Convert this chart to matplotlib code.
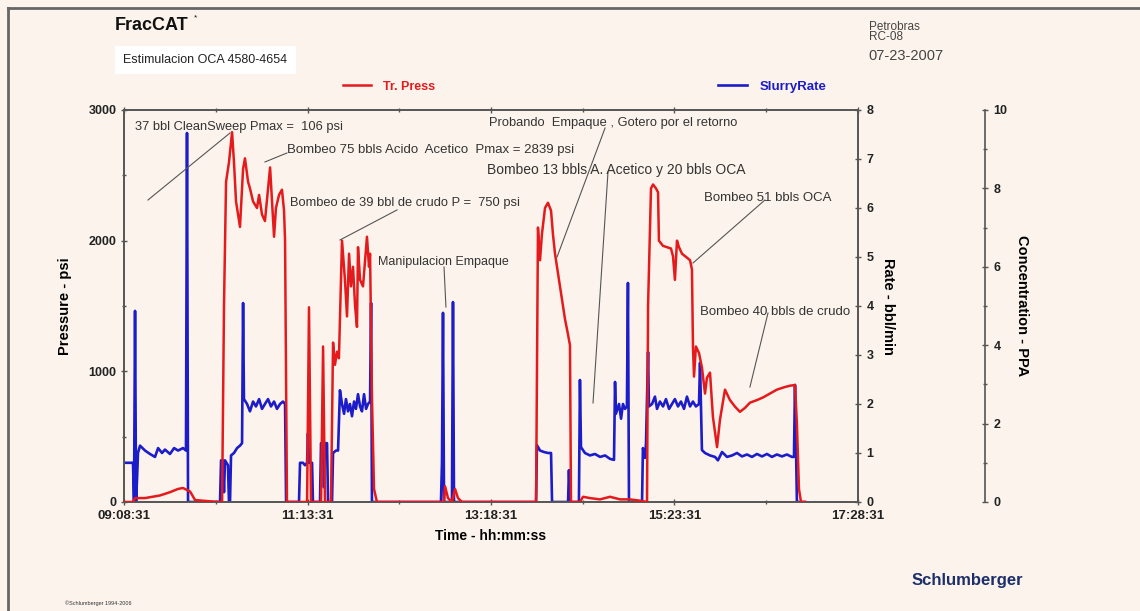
import numpy as np
import matplotlib
matplotlib.use("Agg")
import matplotlib.pyplot as plt
from matplotlib.ticker import FixedLocator, MultipleLocator, FuncFormatter
from matplotlib.lines import Line2D

plt.rcParams["font.family"] = ["Liberation Sans", "DejaVu Sans"]

# === Data (time in minutes after 09:08:31) ===
start_sec = 9 * 3600 + 8 * 60 + 31

press_t = [0.0, 6.1, 7.5, 14.3, 24.5, 31.3, 36.8, 40.2, 45.0, 48.4, 64.0,
           66.8, 68.1, 69.5, 71.5, 73.6, 74.9, 76.3, 79.0, 81.1, 82.4, 84.5, 85.8, 87.9,
           90.6, 92.0, 94.0, 96.0, 98.1, 99.5, 100.8, 102.2, 103.5, 105.6, 107.6, 109.0,
           109.7, 111.0, 113.8,
           124.7, 126.0, 127.4, 134.2, 135.6, 136.9, 141.0, 142.4, 143.7, 145.1, 146.4,
           147.1, 148.5, 150.5, 151.9, 153.3, 154.6, 156.0, 157.4, 158.7, 159.4, 160.8,
           162.8, 164.2, 165.5, 166.9, 167.6, 168.9, 170.3, 172.3,
           215.9, 218.0, 218.7, 220.7, 223.4, 225.5, 227.5, 230.2,
           280.7, 282.0, 283.4, 284.7, 286.8, 288.8, 290.9, 292.2, 293.6, 297.0, 300.4,
           302.5, 303.8, 304.5,
           310.6, 312.7, 317.4, 324.3, 331.1, 337.9, 344.7, 351.5, 356.3,
           357.0, 359.0, 360.4, 362.4, 363.8, 364.4, 367.2, 369.9, 372.6, 374.0, 375.3,
           376.7, 378.1, 380.1, 383.5, 385.6, 386.9, 387.6, 388.3, 389.6, 391.7, 393.7,
           395.8, 397.1, 399.2, 401.2, 404.0, 406.0, 409.4, 412.8, 416.2, 419.6, 423.0,
           426.4, 431.2, 435.3, 440.1, 444.8, 450.3, 453.7, 457.1, 458.4, 459.8, 461.2,
           463.9]
press_psi = [0, 0, 30, 30, 50, 75, 100, 107, 80, 15, 0,
             0, 1500, 2450, 2600, 2830, 2600, 2300, 2105, 2550, 2630, 2450, 2400, 2300,
             2250, 2350, 2200, 2150, 2400, 2560, 2300, 2030, 2250, 2350, 2390, 2230,
             2000, 0, 0,
             0, 1490, 0, 0, 1190, 0, 0, 1220, 1050, 1150, 1100,
             1400, 2000, 1700, 1420, 1900, 1650, 1800, 1500, 1340, 1950, 1700,
             1650, 1850, 2030, 1800, 1900, 800, 100, 0,
             0, 0, 120, 30, 0, 100, 30, 0,
             0, 2100, 1850, 2050, 2250, 2290, 2230, 2050, 1900, 1650, 1400,
             1280, 1200, 0,
             0, 40, 30, 20, 40, 20, 20, 10, 0,
             1500, 2400, 2430, 2400, 2370, 2000, 1960, 1950, 1940, 1880, 1700,
             2000, 1950, 1900, 1870, 1850, 1780, 1190, 960, 1190, 1140, 1030,
             830, 950, 990, 650, 420, 630, 860, 780, 730, 690, 720,
             760, 780, 800, 830, 860, 880, 890, 895, 600, 100, 0,
             0]

rate_t = [0.0, 6.1, 6.8, 7.5, 8.2, 8.9, 9.5, 10.9, 14.3, 17.7, 21.1, 23.2, 25.9, 27.9,
          31.3, 34.1, 36.8, 40.2, 42.2, 42.9, 43.6,
          65.4, 66.1, 67.4, 68.1, 68.8, 70.8, 71.5, 72.2, 72.9, 74.9, 77.0, 79.0, 80.4,
          81.1, 81.7, 83.8, 85.8, 87.9, 89.9, 92.0, 94.0, 96.0, 98.1, 100.1, 102.2,
          104.2, 106.3, 108.3, 109.7, 110.4,
          119.2, 119.9, 121.9, 123.3, 124.7, 125.3, 126.0, 128.1, 128.7, 133.5, 134.2,
          135.6, 136.2, 136.9, 138.3, 139.0, 141.7, 142.4, 144.4, 145.8, 147.1, 148.5,
          149.9, 151.2, 152.6, 153.9, 155.3, 156.7, 158.0, 159.4, 160.8, 162.1, 163.5,
          164.9, 166.2, 167.6, 168.3, 168.9,
          215.9, 216.6, 217.3, 218.0, 223.4, 224.1, 224.8,
          280.7, 281.3, 283.4, 286.1, 288.8, 290.9, 291.6, 302.5, 303.1, 303.8,
          309.9, 310.6, 311.3, 314.0, 317.4, 320.8, 324.3, 327.7, 331.1, 333.8, 334.5,
          335.1, 337.2, 338.6, 339.9, 341.3, 342.6, 343.3, 344.0,
          352.9, 353.5, 354.9, 355.6, 357.0, 357.6, 359.7, 361.7, 363.1, 365.1, 367.2,
          369.2, 371.3, 373.3, 375.3, 377.4, 379.4, 381.5, 383.5, 385.6, 387.6, 389.6,
          391.7, 392.4, 393.7, 395.8, 399.2, 402.6, 404.6, 407.4, 410.8, 414.2, 417.6,
          421.0, 424.4, 427.8, 431.2, 434.6, 438.0, 441.4, 444.8, 448.2, 451.6, 455.0,
          456.4, 457.1, 458.4, 463.9]
rate_bpm = [0.8, 0.8, 0, 3.9, 0, 0.5, 1.0, 1.15, 1.05, 0.98, 0.92, 1.1, 1.0, 1.07,
            0.98, 1.1, 1.05, 1.1, 1.05, 7.53, 0,
            0, 0.85, 0.85, 0.2, 0.85, 0.75, 0, 0, 0.95, 1.0, 1.1, 1.15, 1.2,
            4.06, 2.1, 2.0, 1.85, 2.05, 1.95, 2.1, 1.9, 2.0, 2.1, 1.95, 2.05,
            1.9, 2.0, 2.05, 2.0, 0,
            0, 0.8, 0.8, 0.75, 0.8, 1.4, 0.8, 0.8, 0, 0, 1.2,
            1.1, 0.3, 1.2, 1.2, 0, 0, 1.0, 1.05, 1.05, 2.28, 2.0,
            1.8, 2.1, 1.85, 2.0, 1.75, 2.05, 1.9, 2.2, 1.95, 1.85, 2.2,
            1.9, 2.0, 2.05, 4.06, 0,
            0, 0.8, 3.86, 0, 0, 4.08, 0,
            0, 1.16, 1.05, 1.02, 1.0, 1.0, 0, 0, 0.65, 0,
            0, 2.49, 1.12, 1.0, 0.95, 0.98, 0.92, 0.95, 0.88, 0.86, 2.45,
            1.8, 2.0, 1.7, 2.0, 1.9, 1.95, 4.47, 0,
            0, 1.1, 0.9, 1.2, 3.06, 1.95, 2.0, 2.15, 1.9, 2.05, 1.95,
            2.1, 1.9, 2.0, 2.1, 1.95, 2.05, 1.9, 2.15, 1.95, 2.05, 1.95,
            2.0, 2.84, 1.06, 1.0, 0.95, 0.92, 0.85, 1.02, 0.92, 0.95, 1.0,
            0.93, 0.97, 0.92, 0.98, 0.93, 0.98, 0.92, 0.97, 0.93, 0.97, 0.92,
            0.92, 2.39, 0, 0]

time_ticks = [0, 125, 250, 375, 500]
press_ticks = [0, 1000, 2000, 3000]
rate_ticks = list(range(0, 9))
conc_ticks = [0, 2, 4, 6, 8, 10]

# (text, text pos (min, psi), leader start, leader end, size)
notes = [
    ("37 bbl CleanSweep Pmax =  106 psi", (7.5, 2870), (16.3, 2311), (72.2, 2824), 9.3),
    ("Bombeo 75 bbls Acido  Acetico  Pmax = 2839 psi", (111.0, 2694), (96.0, 2602), (111.0, 2671), 9.5),
    ("Bombeo de 39 bbl de crudo P =  750 psi", (113.1, 2288), (147.1, 2005), (186.0, 2235), 9.3),
    ("Manipulacion Empaque", (173.0, 1837), (219.3, 1492), (218.0, 1798), 9.0),
    ("Probando  Empaque , Gotero por el retorno", (248.6, 2900), (295.0, 1875), (327.7, 2862), 9.3),
    ("Bombeo 13 bbls A. Acetico y 20 bbls OCA", (247.3, 2541), (319.5, 758), (329.7, 2525), 10),
    ("Bombeo 51 bbls OCA", (395.1, 2326), (387.6, 1829), (436.6, 2311), 9.5),
    ("Bombeo 40 bbls de crudo", (392.4, 1454), (426.4, 880), (438.7, 1446), 9.5),
]

bg = "#fcf4ec"
axis_col = "#555555"
red = "#e41a1c"
blue = "#1c1cc8"

fig = plt.figure(figsize=(11.4, 6.11), dpi=100, facecolor=bg)
ax = fig.add_axes([0.1088, 0.1784, 0.6438, 0.6416])

line_p, = ax.plot(press_t, press_psi, color=red, lw=1.8, zorder=3)
ax.set_xlim(0, 500)
ax.set_ylim(0, 3000)

ax2 = ax.twinx()
line_r, = ax2.plot(rate_t, rate_bpm, color=blue, lw=1.9, zorder=2)
ax2.set_ylim(0, 8)
ax.set_zorder(ax2.get_zorder() + 1)
ax.patch.set_visible(False)
ax2.set_facecolor(bg)

ax3 = ax.twinx()
ax3.set_ylim(0, 10)
ax3.spines["right"].set_position(("axes", 1.173))
for s in ["top", "bottom", "left"]:
    ax3.spines[s].set_visible(False)
ax3.patch.set_visible(False)

def hms(v, pos=None):
    s = int(round(start_sec + v * 60))
    return "%02d:%02d:%02d" % (s // 3600, (s % 3600) // 60, s % 60)

ax.xaxis.set_major_locator(FixedLocator(time_ticks))
ax.xaxis.set_minor_locator(MultipleLocator(62.5))
ax.xaxis.set_major_formatter(FuncFormatter(hms))
ax.yaxis.set_major_locator(FixedLocator(press_ticks))
ax.yaxis.set_minor_locator(MultipleLocator(500))
ax2.yaxis.set_major_locator(FixedLocator(rate_ticks))
ax3.yaxis.set_major_locator(FixedLocator(conc_ticks))
ax3.yaxis.set_minor_locator(MultipleLocator(1))

for a in (ax, ax2, ax3):
    for s in a.spines.values():
        s.set_color(axis_col)
        s.set_linewidth(1.2)
    a.tick_params(which="both", colors=axis_col, labelcolor="#222222", labelsize=9,
                  direction="inout", length=5, width=1)
    a.tick_params(which="minor", length=3)
    for lab in a.get_xticklabels() + a.get_yticklabels():
        lab.set_fontweight("bold")
ax.tick_params(axis="x", which="both", top=True, labelsize=9.5)
ax.tick_params(axis="y", pad=3)

ax.set_ylabel("Pressure - psi", fontsize=10.5, fontweight="bold")
ax.yaxis.set_label_coords(-0.071, 0.5)
ax.set_xlabel("Time - hh:mm:ss", fontsize=10, fontweight="bold")
ax.xaxis.set_label_coords(0.5, -0.068)
ax2.set_ylabel("Rate - bbl/min", fontsize=10.5, fontweight="bold", rotation=270, va="center")
ax2.yaxis.set_label_coords(1.041, 0.5)
ax3.set_ylabel("Concentration - PPA", fontsize=10.5, fontweight="bold", rotation=270, va="center")
ax3.yaxis.set_label_coords(1.223, 0.5)

# annotations
for text, tpos, p0, p1, size in notes:
    ax.text(tpos[0], tpos[1], text, fontsize=size, color="#333333", va="center", ha="left", zorder=5)
    ax.plot([p0[0], p1[0]], [p0[1], p1[1]], color="#555555", lw=0.8, zorder=4)

# legends
leg1 = ax.legend([line_p], ["Tr. Press"], loc="center left", bbox_to_anchor=(0.29, 1.059),
                 frameon=False, handlelength=2.2, handletextpad=1.0, borderpad=0,
                 prop={"weight": "bold", "size": 9}, labelcolor=red)
ax.add_artist(leg1)
ax.legend([line_r], ["SlurryRate"], loc="center left", bbox_to_anchor=(0.8, 1.059),
          frameon=False, handlelength=2.2, handletextpad=1.0, borderpad=0,
          prop={"weight": "bold", "size": 9.5}, labelcolor=blue)

# header / footer
fig.text(0.101, 0.958, "FracCAT", fontsize=13, fontweight="bold", color="#111111", va="center")
fig.text(0.1705, 0.970, "*", fontsize=6, color="#111111", va="center")
fig.text(0.108, 0.902, "Estimulacion OCA 4580-4654", fontsize=9, color="#222222", va="center",
         bbox=dict(facecolor="white", edgecolor="none", pad=6))
fig.text(0.762, 0.956, "Petrobras", fontsize=8.5, color="#444444", va="center")
fig.text(0.762, 0.939, "RC-08", fontsize=8.5, color="#444444", va="center")
fig.text(0.762, 0.908, "07-23-2007", fontsize=10.5, color="#444444", va="center")
fig.text(0.800, 0.050, "Schlumberger", fontsize=12, fontweight="bold", color="#1c2f6b", va="center")
fig.text(0.057, 0.012, "\u00a9Schlumberger 1994-2006", fontsize=4, color="#333333", va="center")

# page frame
fig.add_artist(Line2D([0.007, 1.0], [0.987, 0.987], transform=fig.transFigure, color="#666666", lw=2))
fig.add_artist(Line2D([0.007, 0.007], [0.0, 0.987], transform=fig.transFigure, color="#666666", lw=2))

fig.savefig("out.png", dpi=100, facecolor=bg)
